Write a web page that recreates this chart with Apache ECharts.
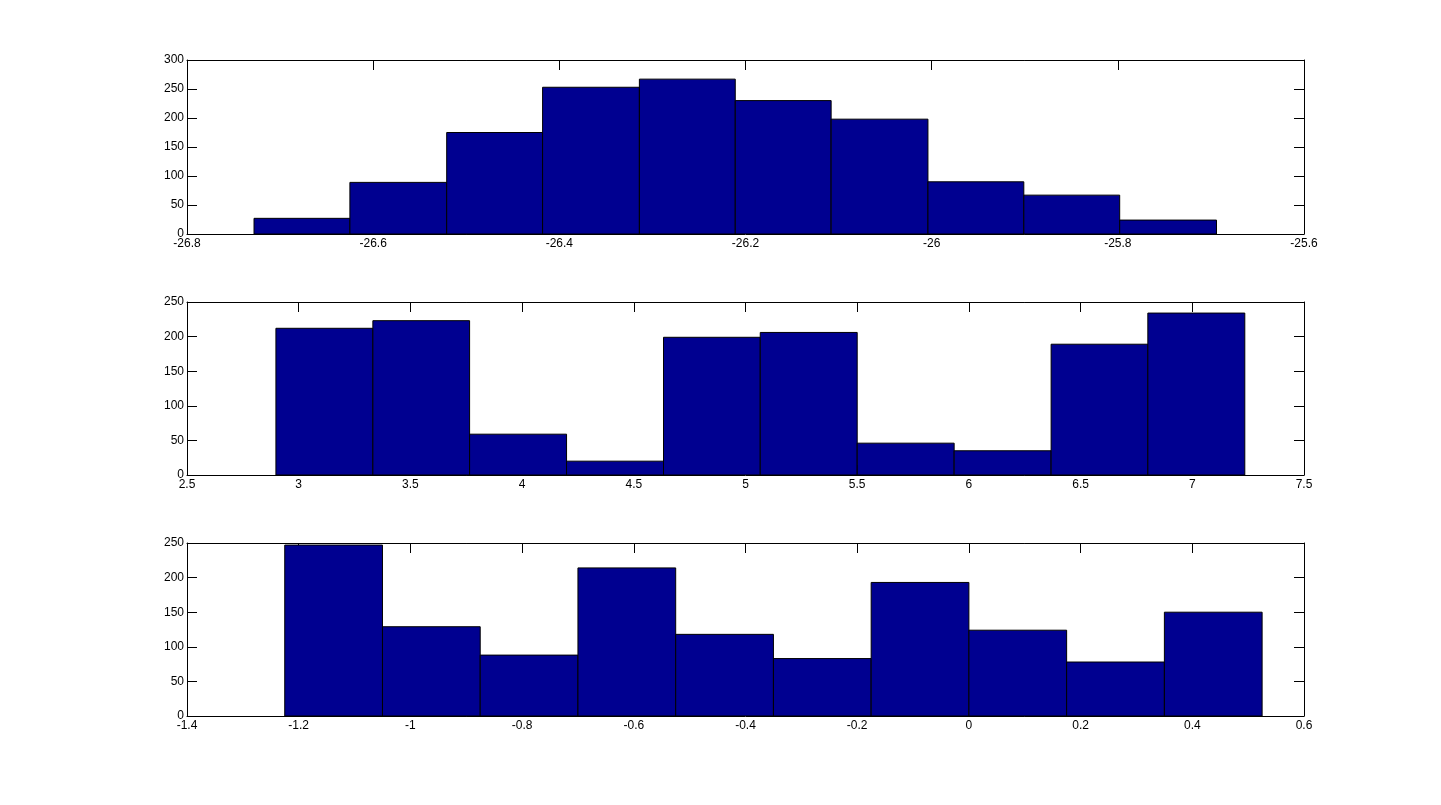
<!DOCTYPE html>
<html>
<head>
<meta charset="utf-8">
<script src="https://cdn.jsdelivr.net/npm/echarts@6/dist/echarts.min.js"></script>
<style>
    html, body { margin: 0; padding: 0; background: #fff; }
    #main { width: 1441px; height: 805px; }
</style>
</head>
<body>
<div id="main"></div>
<script>
// bin edges and counts
var topEdges = [-26.728, -26.625, -26.521, -26.418, -26.314, -26.211, -26.108, -26.004, -25.901, -25.798, -25.694];
var topCounts = [27, 89, 175, 253, 267, 230, 198, 90, 67, 24];

var midEdges = [2.898, 3.332, 3.765, 4.199, 4.633, 5.066, 5.500, 5.934, 6.368, 6.801, 7.235];
var midCounts = [212, 223, 59, 20, 199, 206, 46, 35, 189, 234];

var botEdges = [-1.225, -1.050, -0.875, -0.700, -0.525, -0.350, -0.175, 0.000, 0.175, 0.350, 0.525];
var botCounts = [247, 129, 88, 214, 118, 83, 193, 124, 78, 150];

// axis ranges [min, max, step]
var topXRange = [-26.8, -25.6, 0.2];
var midXRange = [2.5, 7.5, 0.5];
var botXRange = [-1.4, 0.6, 0.2];
var topYRange = [0, 300, 50];
var midYRange = [0, 250, 50];
var botYRange = [0, 250, 50];

window.addEventListener('load', function () {
    let chart = echarts.init(document.getElementById('main'), null, {renderer: 'canvas'});
    let font = '"Liberation Sans Narrow", "Liberation Sans", Arial, sans-serif';

    let grids = [
        {left: 187, right: 137, top: 60, height: 174},
        {left: 187, right: 137, top: 302, height: 173},
        {left: 187, right: 137, top: 543, height: 173}
    ];
    let panels = [
        {edges: topEdges, counts: topCounts, xr: topXRange, yr: topYRange},
        {edges: midEdges, counts: midCounts, xr: midXRange, yr: midYRange},
        {edges: botEdges, counts: botCounts, xr: botXRange, yr: botYRange}
    ];

    let xAxis = [], yAxis = [], series = [];
    panels.forEach(function (p, i) {
        let line = {show: true, onZero: false, lineStyle: {color: '#000', width: 1}};
        let tick = {show: true, inside: true, length: 10, lineStyle: {color: '#000'}};
        let label = {color: '#000', fontSize: 12, fontFamily: font};
        // bottom (labelled) and top (ticks only) x axes
        xAxis.push({
            type: 'value', gridIndex: i, position: 'bottom',
            min: p.xr[0], max: p.xr[1], interval: p.xr[2],
            axisLine: line, axisTick: tick,
            axisLabel: Object.assign({margin: 4, showMinLabel: true, showMaxLabel: true}, label),
            splitLine: {show: false}
        });
        xAxis.push({
            type: 'value', gridIndex: i, position: 'top',
            min: p.xr[0], max: p.xr[1], interval: p.xr[2],
            axisLine: line, axisTick: tick, axisLabel: {show: false},
            splitLine: {show: false}
        });
        yAxis.push({
            type: 'value', gridIndex: i, position: 'left',
            min: p.yr[0], max: p.yr[1], interval: p.yr[2],
            axisLine: line, axisTick: tick,
            axisLabel: Object.assign({margin: 3}, label),
            splitLine: {show: false}
        });
        yAxis.push({
            type: 'value', gridIndex: i, position: 'right',
            min: p.yr[0], max: p.yr[1], interval: p.yr[2],
            axisLine: line, axisTick: tick, axisLabel: {show: false},
            splitLine: {show: false}
        });

        let data = p.counts.map(function (c, k) {
            return [p.edges[k], p.edges[k + 1], c];
        });
        series.push({
            type: 'custom',
            xAxisIndex: i * 2,
            yAxisIndex: i * 2,
            encode: {x: [0, 1], y: 2},
            clip: true,
            data: data,
            renderItem: function (params, api) {
                let a = api.coord([api.value(0), api.value(2)]);
                let b = api.coord([api.value(1), 0]);
                return {
                    type: 'rect',
                    shape: {x: a[0], y: a[1], width: b[0] - a[0], height: b[1] - a[1]},
                    style: {fill: '#000090', stroke: '#000', lineWidth: 1}
                };
            }
        });
    });

    chart.setOption({
        backgroundColor: '#fff',
        animation: false,
        grid: grids,
        xAxis: xAxis,
        yAxis: yAxis,
        series: series
    });
}, false);
</script>
</body>
</html>
